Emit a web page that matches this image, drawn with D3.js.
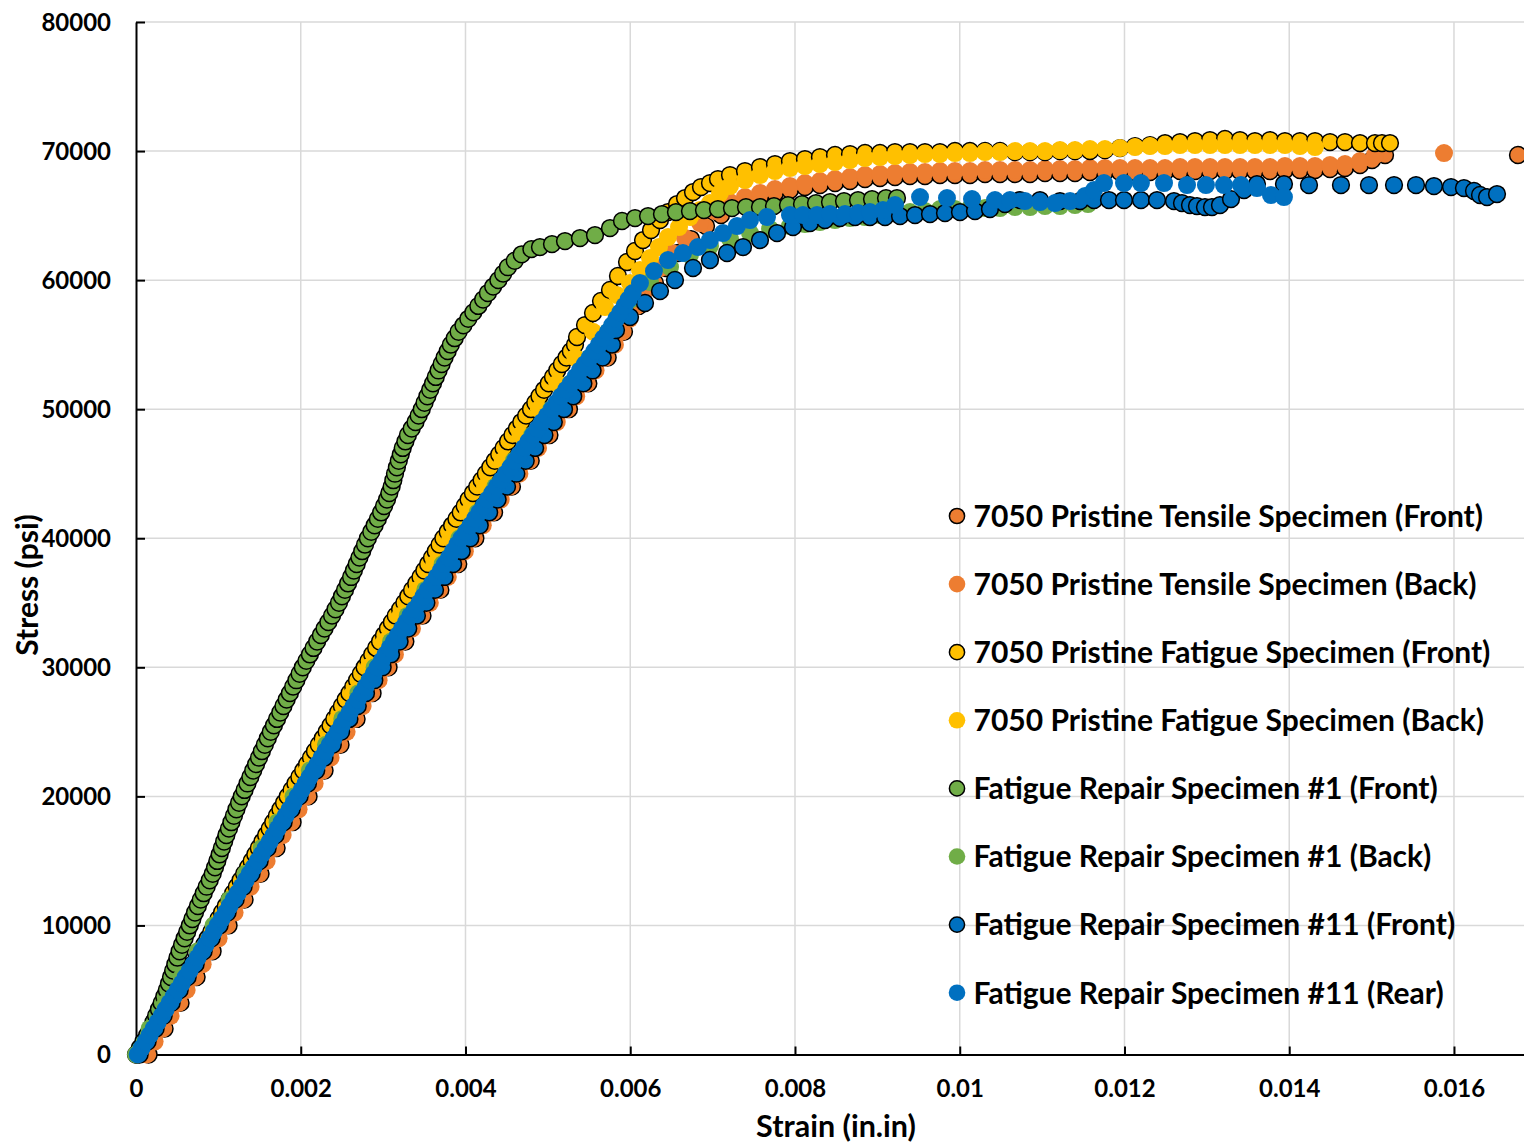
<!DOCTYPE html>
<html>
<head>
<meta charset="utf-8">
<script src="https://cdn.jsdelivr.net/npm/d3@7"></script>
<style>
  body { margin: 0; background: #fff; }
  svg { display: block; font-family: Lato, "Open Sans", sans-serif; font-weight: bold; }
</style>
</head>
<body>
<svg width="1524" height="1144"></svg>
<script>
// [strain (in/in), stress (psi)]
const tensileFront = [[0.000153,0],[0.000347,2000],[0.000541,4000],[0.000736,6000],[0.00093,8000],[0.001124,10000],[0.001318,12000],[0.001512,14000],[0.001707,16000],[0.001901,18000],[0.002095,20000],[0.002289,22000],[0.002483,24000],[0.002678,26000],[0.002872,28000],[0.003066,30000],[0.00327,32000],[0.003478,34000],[0.003695,36000],[0.003912,38000],[0.00412,40000],[0.004347,42000],[0.004564,44000],[0.004792,46000],[0.005019,48000],[0.005256,50000],[0.005491,52000],[0.005726,54000],[0.005924,56000],[0.006104,58000],[0.0063,59775],[0.006434,60938],[0.00658,62100],[0.006738,63183],[0.00692,64190],[0.007102,65043],[0.007211,65740],[0.007393,66128],[0.007575,66437],[0.007757,66749],[0.007939,66980],[0.008121,67213],[0.008303,67368],[0.008486,67523],[0.008668,67678],[0.00885,67833],[0.009032,67910],[0.009214,67988],[0.009396,68065],[0.009578,68065],[0.00976,68143],[0.009942,68143],[0.010124,68143],[0.010307,68220],[0.010489,68220],[0.010671,68220],[0.010853,68220],[0.011035,68298],[0.011217,68298],[0.011399,68298],[0.011581,68375],[0.011763,68375],[0.011945,68375],[0.012128,68375],[0.01231,68375],[0.012492,68375],[0.012674,68453],[0.012856,68453],[0.013038,68453],[0.01322,68453],[0.013402,68453],[0.013584,68453],[0.013766,68453],[0.013948,68530],[0.01413,68530],[0.014313,68530],[0.014495,68608],[0.014677,68685],[0.014859,68918],[0.015005,69305],[0.015163,69693],[0.016777,69693]];

const tensileBack = [[0.000129,0],[0.000226,1000],[0.000323,2000],[0.00042,3000],[0.000517,4000],[0.000615,5000],[0.000712,6000],[0.000809,7000],[0.000906,8000],[0.001003,9000],[0.0011,10000],[0.001197,11000],[0.001294,12000],[0.001391,13000],[0.001488,14000],[0.001586,15000],[0.001683,16000],[0.00178,17000],[0.001877,18000],[0.001974,19000],[0.002071,20000],[0.002168,21000],[0.002265,22000],[0.002362,23000],[0.002459,24000],[0.002557,25000],[0.002654,26000],[0.002751,27000],[0.002848,28000],[0.002945,29000],[0.003042,30000],[0.003143,31000],[0.003246,32000],[0.00335,33000],[0.003454,34000],[0.003567,35000],[0.003671,36000],[0.003785,37000],[0.003888,38000],[0.003992,39000],[0.004096,40000],[0.00421,41000],[0.004323,42000],[0.004427,43000],[0.00454,44000],[0.004654,45000],[0.004768,46000],[0.004881,47000],[0.004995,48000],[0.005108,49000],[0.005232,50000],[0.005344,51000],[0.005467,52000],[0.005579,53000],[0.005702,54000],[0.005814,55000],[0.0059,56000],[0.00599,57000],[0.00608,58000],[0.00616,59000],[0.006228,59775],[0.006361,60938],[0.006507,62100],[0.006665,63262],[0.006847,64423],[0.007029,65353],[0.007211,66050],[0.007393,66437],[0.007575,66749],[0.007757,67059],[0.007939,67290],[0.008121,67523],[0.008303,67678],[0.008486,67833],[0.008668,67988],[0.00885,68143],[0.009032,68220],[0.009214,68298],[0.009396,68375],[0.009578,68375],[0.00976,68453],[0.009942,68453],[0.010124,68453],[0.010307,68530],[0.010489,68530],[0.010671,68530],[0.010853,68530],[0.011035,68608],[0.011217,68608],[0.011399,68608],[0.011581,68685],[0.011763,68685],[0.011945,68685],[0.012128,68685],[0.01231,68685],[0.012492,68685],[0.012674,68763],[0.012856,68763],[0.013038,68763],[0.01322,68763],[0.013402,68763],[0.013584,68763],[0.013766,68763],[0.013948,68840],[0.01413,68840],[0.014313,68840],[0.014495,68918],[0.014677,68995],[0.014859,69228],[0.015041,69693],[0.015879,69848]];

const fatigueFront = [[0.000008,0],[0.000057,500],[0.000105,1000],[0.000154,1500],[0.000202,2000],[0.000251,2500],[0.000299,3000],[0.000348,3500],[0.000396,4000],[0.000445,4500],[0.000494,5000],[0.000543,5500],[0.000591,6000],[0.00064,6500],[0.000688,7000],[0.000737,7500],[0.000785,8000],[0.000828,8500],[0.00087,9000],[0.000913,9500],[0.000955,10000],[0.001,10500],[0.001044,11000],[0.001089,11500],[0.001134,12000],[0.001179,12500],[0.001224,13000],[0.001269,13500],[0.001313,14000],[0.001359,14500],[0.001404,15000],[0.001448,15500],[0.001491,16000],[0.001535,16500],[0.001579,17000],[0.001623,17500],[0.001666,18000],[0.00171,18500],[0.001753,19000],[0.001797,19500],[0.001841,20000],[0.001888,20500],[0.001935,21000],[0.001983,21500],[0.00203,22000],[0.002077,22500],[0.002124,23000],[0.002172,23500],[0.002219,24000],[0.002267,24500],[0.002314,25000],[0.002361,25500],[0.002407,26000],[0.002453,26500],[0.002499,27000],[0.002545,27500],[0.002591,28000],[0.002637,28500],[0.002683,29000],[0.002729,29500],[0.002775,30000],[0.002821,30500],[0.002867,31000],[0.002915,31500],[0.002962,32000],[0.00301,32500],[0.003058,33000],[0.003106,33500],[0.003153,34000],[0.003206,34500],[0.003258,35000],[0.003305,35500],[0.003351,36000],[0.003402,36500],[0.003453,37000],[0.0035,37500],[0.003546,38000],[0.003593,38500],[0.003639,39000],[0.003685,39500],[0.003731,40000],[0.003784,40500],[0.003837,41000],[0.00389,41500],[0.003942,42000],[0.00399,42500],[0.004037,43000],[0.00409,43500],[0.004142,44000],[0.004195,44500],[0.004247,45000],[0.004301,45500],[0.004355,46000],[0.004409,46500],[0.004462,47000],[0.004516,47500],[0.00457,48000],[0.004624,48500],[0.004677,49000],[0.004736,49500],[0.004795,50000],[0.004847,50500],[0.004898,51000],[0.004954,51500],[0.00501,52000],[0.005062,52500],[0.005113,53000],[0.00517,53500],[0.005226,54000],[0.005278,54500],[0.005329,55000],[0.005354,55592],[0.005451,56521],[0.005548,57451],[0.005645,58381],[0.005754,59233],[0.005851,60318],[0.005961,61403],[0.006058,62255],[0.006155,63105],[0.006252,63880],[0.006361,64655],[0.006458,65275],[0.006568,65895],[0.006665,66360],[0.006762,66825],[0.006859,67213],[0.006968,67523],[0.007065,67833],[0.007211,68143],[0.007393,68453],[0.007575,68763],[0.007757,68995],[0.007939,69228],[0.008121,69383],[0.008303,69538],[0.008486,69693],[0.008668,69770],[0.00885,69848],[0.009032,69848],[0.009214,69925],[0.009396,69925],[0.009578,69925],[0.00976,69925],[0.009942,70003],[0.010124,70003],[0.010307,70003],[0.010489,70003],[0.010671,69925],[0.010853,69925],[0.011035,69925],[0.011217,70003],[0.011399,70003],[0.011581,70003],[0.011763,70080],[0.011945,70235],[0.012128,70390],[0.01231,70467],[0.012492,70622],[0.012674,70700],[0.012856,70777],[0.013038,70855],[0.01322,70933],[0.013402,70855],[0.013584,70777],[0.013766,70855],[0.013948,70777],[0.01413,70777],[0.014313,70777],[0.014495,70700],[0.014677,70700],[0.014859,70622],[0.015041,70622],[0.015126,70622],[0.015223,70622]];

const fatigueBack = [[0.00002,0],[0.000214,2000],[0.000408,4000],[0.000603,6000],[0.000797,8000],[0.000991,10000],[0.00117,12000],[0.00135,14000],[0.00153,16000],[0.00171,18000],[0.001889,20000],[0.002076,22000],[0.002263,24000],[0.00245,26000],[0.002637,28000],[0.002824,30000],[0.003016,32000],[0.003211,34000],[0.003416,36000],[0.003621,38000],[0.003816,40000],[0.004032,42000],[0.004237,44000],[0.004452,46000],[0.004667,48000],[0.004892,50000],[0.005113,52000],[0.005333,54000],[0.005548,56000],[0.005693,57916],[0.005839,58845],[0.005997,59775],[0.006118,60783],[0.00624,61713],[0.006349,62563],[0.006458,63340],[0.006592,64113],[0.006725,64888],[0.006847,65430],[0.006968,65973],[0.00709,66749],[0.007211,67292],[0.007393,67755],[0.007575,68143],[0.007757,68453],[0.007939,68685],[0.008121,68840],[0.008303,68995],[0.008486,69150],[0.008668,69305],[0.00885,69460],[0.009032,69538],[0.009214,69615],[0.009396,69693],[0.009578,69770],[0.00976,69770],[0.009942,69848],[0.010124,69848],[0.010307,69925],[0.010489,69925],[0.010671,70003],[0.010853,70003],[0.011035,70003],[0.011217,70080],[0.011399,70080],[0.011581,70157],[0.011763,70157],[0.011945,70235],[0.012128,70312],[0.01231,70390],[0.012492,70390],[0.012674,70467],[0.012856,70467],[0.013038,70467],[0.01322,70467],[0.013402,70467],[0.013584,70467],[0.013766,70467],[0.013948,70467],[0.01413,70390],[0.014313,70312]];

const repair1Front = [[0,0],[0.000045,500],[0.00009,1000],[0.000135,1500],[0.000178,2000],[0.000211,2500],[0.000244,3000],[0.000278,3500],[0.000311,4000],[0.000343,4500],[0.000374,5000],[0.0004,5500],[0.000425,6000],[0.000451,6500],[0.000477,7000],[0.000503,7500],[0.000529,8000],[0.000559,8500],[0.00059,9000],[0.000621,9500],[0.000653,10000],[0.000684,10500],[0.000716,11000],[0.000751,11500],[0.000786,12000],[0.000822,12500],[0.000858,13000],[0.000895,13500],[0.000931,14000],[0.000959,14500],[0.000987,15000],[0.001015,15500],[0.001042,16000],[0.00107,16500],[0.001097,17000],[0.001128,17500],[0.001158,18000],[0.001189,18500],[0.001219,19000],[0.001251,19500],[0.001283,20000],[0.001318,20500],[0.001353,21000],[0.001388,21500],[0.001423,22000],[0.001458,22500],[0.001493,23000],[0.001528,23500],[0.001564,24000],[0.0016,24500],[0.001636,25000],[0.001674,25500],[0.001712,26000],[0.001751,26500],[0.00179,27000],[0.001829,27500],[0.001868,28000],[0.001908,28500],[0.001947,29000],[0.001986,29500],[0.002025,30000],[0.002068,30500],[0.002111,31000],[0.002155,31500],[0.002199,32000],[0.002244,32500],[0.002289,33000],[0.002335,33500],[0.00238,34000],[0.002422,34500],[0.002464,35000],[0.0025,35500],[0.002537,36000],[0.002574,36500],[0.002611,37000],[0.002645,37500],[0.002679,38000],[0.002712,38500],[0.002746,39000],[0.00278,39500],[0.002815,40000],[0.002856,40500],[0.002897,41000],[0.002936,41500],[0.002976,42000],[0.003011,42500],[0.003047,43000],[0.003075,43500],[0.003103,44000],[0.003124,44500],[0.003144,45000],[0.003167,45500],[0.00319,46000],[0.003214,46500],[0.003238,47000],[0.00327,47500],[0.003301,48000],[0.003347,48500],[0.003393,49000],[0.003431,49500],[0.003469,50000],[0.003503,50500],[0.003537,51000],[0.003571,51500],[0.003605,52000],[0.003639,52500],[0.003673,53000],[0.00371,53500],[0.003746,54000],[0.003784,54500],[0.003822,55000],[0.003869,55500],[0.003916,56000],[0.003975,56500],[0.004034,57000],[0.004095,57500],[0.004156,58000],[0.004214,58500],[0.004272,59000],[0.004336,59500],[0.004399,60000],[0.004457,60500],[0.004515,61000],[0.004598,61500],[0.004682,62000],[0.0048,62400],[0.004904,62563],[0.00505,62795],[0.005208,63028],[0.00539,63260],[0.005572,63493],[0.005754,64035],[0.0059,64580],[0.006058,64810],[0.006216,64965],[0.006385,65120],[0.006555,65275],[0.006725,65353],[0.006895,65430],[0.007065,65508],[0.007235,65585],[0.007405,65663],[0.007575,65663],[0.007745,65740],[0.007915,65818],[0.008085,65895],[0.008255,65973],[0.008425,66050],[0.008595,66128],[0.008765,66205],[0.008935,66283],[0.009105,66360],[0.009238,66360]];

const repair1Back = [[0,0],[0.000165,2000],[0.000359,4000],[0.000554,6000],[0.000748,8000],[0.000942,10000],[0.001136,12000],[0.00133,14000],[0.001525,16000],[0.001719,18000],[0.001913,20000],[0.00211,22000],[0.002306,24000],[0.002504,26000],[0.0027,28000],[0.002897,30000],[0.003096,32000],[0.003298,34000],[0.003511,36000],[0.003723,38000],[0.003926,40000],[0.004149,42000],[0.004362,44000],[0.004585,46000],[0.004809,48000],[0.005042,50000],[0.005275,52000],[0.005509,54000],[0.00573,56000],[0.005997,58459],[0.00624,59853],[0.006483,61015],[0.006725,61945],[0.006968,62640],[0.007211,63183],[0.007454,63648],[0.007697,63958],[0.007939,64190],[0.008121,64345],[0.008303,64500],[0.008486,64655],[0.008668,64810],[0.00885,64888],[0.009032,65043],[0.009214,65198],[0.009396,65275],[0.009578,65353],[0.00976,65508],[0.009942,65508],[0.010124,65585],[0.010307,65585],[0.010489,65585],[0.010671,65663],[0.010853,65663],[0.011035,65740],[0.011217,65740],[0.011399,65818],[0.011557,65895]];

const repair11Front = [[0.000044,0],[0.000141,1000],[0.000238,2000],[0.000335,3000],[0.000432,4000],[0.00053,5000],[0.000627,6000],[0.000724,7000],[0.000821,8000],[0.000918,9000],[0.001015,10000],[0.001112,11000],[0.001209,12000],[0.001306,13000],[0.001403,14000],[0.001501,15000],[0.001598,16000],[0.001695,17000],[0.001792,18000],[0.001889,19000],[0.001986,20000],[0.002087,21000],[0.002188,22000],[0.002288,23000],[0.002389,24000],[0.00249,25000],[0.002591,26000],[0.002692,27000],[0.002792,28000],[0.002893,29000],[0.002994,30000],[0.003096,31000],[0.0032,32000],[0.003305,33000],[0.00341,34000],[0.003525,35000],[0.00363,36000],[0.003745,37000],[0.00385,38000],[0.003954,39000],[0.004059,40000],[0.004173,41000],[0.004287,42000],[0.00439,43000],[0.004504,44000],[0.004617,45000],[0.004731,46000],[0.004845,47000],[0.004958,48000],[0.005072,49000],[0.005196,50000],[0.005308,51000],[0.005431,52000],[0.005543,53000],[0.005665,54000],[0.005778,55000],[0.005827,56134],[0.005997,57141],[0.006179,58226],[0.006361,59155],[0.006543,60008],[0.006762,60938],[0.006968,61558],[0.007175,62100],[0.007369,62563],[0.007575,63105],[0.007782,63648],[0.007976,64113],[0.008182,64423],[0.008364,64655],[0.008546,64810],[0.008729,64888],[0.00891,64888],[0.009093,64888],[0.009275,64965],[0.009457,65043],[0.009639,65120],[0.009821,65198],[0.010003,65275],[0.010185,65353],[0.010367,65508],[0.010549,65895],[0.010731,66205],[0.010974,66205],[0.011217,66128],[0.01146,66128],[0.01163,66205],[0.011812,66205],[0.011994,66205],[0.0122,66205],[0.012395,66205],[0.012601,66128],[0.012698,65973],[0.012795,65818],[0.01288,65740],[0.012977,65663],[0.013062,65663],[0.013159,65818],[0.013293,66283],[0.013451,66980],[0.013608,67445],[0.013936,67445],[0.01424,67368],[0.014628,67368],[0.014968,67368],[0.015272,67368],[0.015539,67368],[0.015757,67290],[0.015964,67213],[0.016121,67135],[0.016243,66904],[0.016316,66594],[0.016401,66437],[0.016522,66670]];

const repair11Rear = [[0.00002,0],[0.000069,500],[0.000117,1000],[0.000166,1500],[0.000214,2000],[0.000263,2500],[0.000311,3000],[0.00036,3500],[0.000408,4000],[0.000457,4500],[0.000506,5000],[0.000555,5500],[0.000603,6000],[0.000652,6500],[0.0007,7000],[0.000749,7500],[0.000797,8000],[0.000846,8500],[0.000894,9000],[0.000943,9500],[0.000991,10000],[0.00104,10500],[0.001088,11000],[0.001137,11500],[0.001185,12000],[0.001234,12500],[0.001282,13000],[0.001331,13500],[0.001379,14000],[0.001428,14500],[0.001477,15000],[0.001526,15500],[0.001574,16000],[0.001623,16500],[0.001671,17000],[0.00172,17500],[0.001768,18000],[0.001817,18500],[0.001865,19000],[0.001914,19500],[0.001962,20000],[0.002011,20500],[0.002059,21000],[0.002108,21500],[0.002156,22000],[0.002205,22500],[0.002253,23000],[0.002302,23500],[0.00235,24000],[0.002399,24500],[0.002448,25000],[0.002497,25500],[0.002545,26000],[0.002594,26500],[0.002642,27000],[0.002691,27500],[0.002739,28000],[0.002788,28500],[0.002836,29000],[0.002885,29500],[0.002933,30000],[0.002982,30500],[0.00303,31000],[0.00308,31500],[0.00313,32000],[0.00318,32500],[0.00323,33000],[0.00328,33500],[0.00333,34000],[0.003385,34500],[0.00344,35000],[0.00349,35500],[0.00354,36000],[0.003595,36500],[0.00365,37000],[0.0037,37500],[0.00375,38000],[0.0038,38500],[0.00385,39000],[0.0039,39500],[0.00395,40000],[0.004005,40500],[0.00406,41000],[0.004115,41500],[0.00417,42000],[0.00422,42500],[0.00427,43000],[0.004325,43500],[0.00438,44000],[0.004435,44500],[0.00449,45000],[0.004545,45500],[0.0046,46000],[0.004655,46500],[0.00471,47000],[0.004765,47500],[0.00482,48000],[0.004875,48500],[0.00493,49000],[0.00499,49500],[0.00505,50000],[0.005105,50500],[0.00516,51000],[0.00522,51500],[0.00528,52000],[0.005335,52500],[0.00539,53000],[0.00545,53500],[0.00551,54000],[0.005565,54500],[0.00562,55000],[0.005675,55500],[0.00573,56000],[0.00578,56500],[0.00583,57000],[0.00588,57500],[0.00593,58000],[0.00598,58500],[0.00603,59000],[0.006118,59775],[0.006288,60705],[0.006458,61558],[0.00664,62100],[0.006822,62563],[0.006968,63105],[0.007126,63648],[0.007296,64190],[0.007454,64655],[0.00766,64888],[0.007939,65043],[0.008097,65043],[0.008267,65043],[0.008425,65120],[0.008607,65120],[0.008765,65198],[0.00891,65275],[0.009068,65430],[0.009214,65818],[0.009518,66437],[0.009845,66360],[0.010149,66283],[0.010428,66205],[0.01061,66205],[0.010792,66128],[0.010974,66050],[0.011156,65973],[0.011339,66128],[0.011521,66515],[0.01163,66980],[0.011751,67523],[0.011994,67523],[0.0122,67523],[0.01248,67523],[0.012759,67368],[0.012989,67368],[0.013208,67368],[0.013414,67368],[0.013608,67135],[0.013778,66594],[0.013936,66437]];

const seriesNames = [
  "7050 Pristine Tensile Specimen (Front)",
  "7050 Pristine Tensile Specimen (Back)",
  "7050 Pristine Fatigue Specimen (Front)",
  "7050 Pristine Fatigue Specimen (Back)",
  "Fatigue Repair Specimen #1 (Front)",
  "Fatigue Repair Specimen #1 (Back)",
  "Fatigue Repair Specimen #11 (Front)",
  "Fatigue Repair Specimen #11 (Rear)"
];
const seriesData = [tensileFront, tensileBack, fatigueFront, fatigueBack, repair1Front, repair1Back, repair11Front, repair11Rear];
const seriesColors = ["#ED7D31", "#ED7D31", "#FFC000", "#FFC000", "#70AD47", "#70AD47", "#0070C0", "#0070C0"];
const seriesOutlined = [true, false, true, false, true, false, true, false];

const xTicks = [0, 0.002, 0.004, 0.006, 0.008, 0.01, 0.012, 0.014, 0.016];
const yTicks = [0, 10000, 20000, 30000, 40000, 50000, 60000, 70000, 80000];

const svg = d3.select("svg");
const area = { left: 136, right: 1524, top: 22, bottom: 1054.5 };

const scX = d3.scaleLinear().domain([0, 0.01685]).range([area.left, area.right]);
const scY = d3.scaleLinear().domain([0, 80000]).range([area.bottom, area.top]);

// gridlines
svg.append("g")
  .selectAll("line")
  .data(xTicks.slice(1))
  .join("line")
  .attr("x1", d => scX(d)).attr("x2", d => scX(d))
  .attr("y1", area.top).attr("y2", area.bottom)
  .attr("stroke", "#d9d9d9").attr("stroke-width", 1.5);

svg.append("g")
  .selectAll("line")
  .data(yTicks.slice(1))
  .join("line")
  .attr("x1", area.left).attr("x2", area.right)
  .attr("y1", d => scY(d)).attr("y2", d => scY(d))
  .attr("stroke", "#d9d9d9").attr("stroke-width", 1.5);

// axes, ticks point inside the plot
const axisX = svg.append("g")
  .attr("transform", `translate(0, ${area.bottom})`)
  .call(d3.axisBottom(scX).tickValues(xTicks).tickSizeInner(-8).tickSizeOuter(0)
    .tickFormat(d => String(+d.toFixed(3))));
axisX.selectAll("text").attr("y", 34).attr("dy", "0.35em");

const axisY = svg.append("g")
  .attr("transform", `translate(${area.left}, 0)`)
  .call(d3.axisLeft(scY).tickValues(yTicks).tickSizeInner(-9).tickSizeOuter(0)
    .tickFormat(d3.format("d")));
axisY.selectAll("text").attr("x", -25).attr("dy", "0.35em");

svg.selectAll(".domain, .tick line").attr("stroke", "#000").attr("stroke-width", 2);
svg.selectAll(".tick text")
  .attr("fill", "#000")
  .style("font-family", "Lato, 'Open Sans', sans-serif")
  .style("font-weight", "bold")
  .style("font-size", "24px");

// series, drawn in legend order
seriesData.forEach((data, i) => {
  svg.append("g")
    .selectAll("circle")
    .data(data)
    .join("circle")
    .attr("cx", d => scX(d[0]))
    .attr("cy", d => scY(d[1]))
    .attr("r", seriesOutlined[i] ? 8.4 : 9)
    .attr("fill", seriesColors[i])
    .attr("stroke", seriesOutlined[i] ? "#000" : "none")
    .attr("stroke-width", 1.5);
});

// legend (no box)
const legend = svg.append("g").attr("transform", "translate(957, 516)");
const rows = legend.selectAll("g")
  .data(seriesNames)
  .join("g")
  .attr("transform", (d, i) => `translate(0, ${i * 68.1})`);
rows.append("circle")
  .attr("r", (d, i) => seriesOutlined[i] ? 7.6 : 8.3)
  .attr("fill", (d, i) => seriesColors[i])
  .attr("stroke", (d, i) => seriesOutlined[i] ? "#000" : "none")
  .attr("stroke-width", 1.5);
rows.append("text")
  .attr("x", 16.5)
  .attr("dy", "0.36em")
  .style("font-size", "30px")
  .text(d => d);

// axis titles
svg.append("text")
  .attr("x", 836).attr("y", 1126)
  .attr("dy", "0.36em")
  .attr("text-anchor", "middle")
  .style("font-size", "30.5px")
  .text("Strain (in.in)");

svg.append("text")
  .attr("transform", "translate(27, 585) rotate(-90)")
  .attr("dy", "0.36em")
  .attr("text-anchor", "middle")
  .style("font-size", "30px")
  .text("Stress (psi)");
</script>
</body>
</html>
